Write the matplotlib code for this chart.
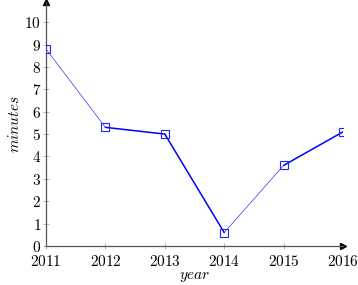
import matplotlib
matplotlib.use("Agg")
from matplotlib import pyplot as plt

years = [2011, 2012, 2013, 2014, 2015, 2016]
minutes = [8.8, 5.3, 5.0, 0.6, 3.6, 5.1]
# line width of each segment (thin / thick alternation seen in the chart)
seg_widths = [0.4, 1.1, 1.1, 0.4, 1.1]
yticks = list(range(0, 11))

plt.rcParams['mathtext.fontset'] = 'cm'
plt.rcParams['font.family'] = 'serif'
plt.rcParams['font.serif'] = ['DejaVu Serif']

fig = plt.figure(figsize=(3.58, 2.85), dpi=100)
ax = fig.add_axes([46/358, 39/285, 297/358, 244/285])

for i in range(len(years) - 1):
    ax.plot(years[i:i+2], minutes[i:i+2], color='blue', lw=seg_widths[i],
            solid_capstyle='round', zorder=2)
ax.plot(years, minutes, ls='none', marker='s', ms=6, mfc='none', mec='#2222ff',
        mew=0.8, zorder=3)

ax.set_xlim(2011, 2016)
ax.set_ylim(0, 10.9)
ax.spines['top'].set_visible(False)
ax.spines['right'].set_visible(False)
for s in ['left', 'bottom']:
    ax.spines[s].set_color('#555555')
    ax.spines[s].set_linewidth(0.9)
ax.plot(1, 0, '>', color='black', ms=4, transform=ax.transAxes, clip_on=False)
ax.plot(0, 1, '^', color='black', ms=4, transform=ax.transAxes, clip_on=False)

ax.set_xticks(years)
ax.set_xticklabels(['$%d$' % y for y in years], fontsize=11)
ax.set_yticks(yticks)
ax.set_yticklabels(['$%d$' % t for t in yticks], fontsize=11)
ax.tick_params(direction='inout', length=5, width=0.5, color='#999999', pad=1)
ax.tick_params(axis='x', pad=3)

ax.set_xlabel('$year$', fontsize=11, labelpad=1)
ax.set_ylabel('$minutes$', fontsize=11, labelpad=2)

fig.savefig('out.png', dpi=100)
